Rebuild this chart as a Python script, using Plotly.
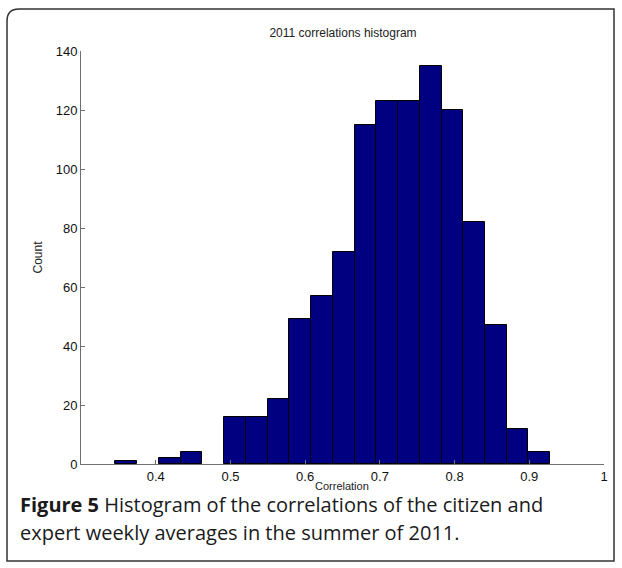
import plotly.graph_objects as go

# ---- data ----
data_min = 0.346
data_max = 0.928
n_bins = 20
counts = [1, 0, 2, 4, 0, 16, 16, 22, 49, 57, 72, 115, 123, 123, 135, 120, 82, 47, 12, 4]
x_ticks = [0.4, 0.5, 0.6, 0.7, 0.8, 0.9, 1]
x_tick_labels = ["0.4", "0.5", "0.6", "0.7", "0.8", "0.9", "1"]
y_ticks = [0, 20, 40, 60, 80, 100, 120, 140]

bin_w = (data_max - data_min) / n_bins
centers = [data_min + bin_w * (i + 0.5) for i in range(n_bins)]
y_plot = [c if c > 0 else None for c in counts]

W, H = 622, 568
L, R, T, B = 81, 18, 51, 104
pw, ph = W - L - R, H - T - B

def px(x):
    return (x - L) / pw

def py(y):
    return (H - B - y) / ph

fig = go.Figure()
fig.add_trace(go.Bar(
    x=centers, y=y_plot, width=bin_w,
    marker=dict(color="#000080", line=dict(color="#000000", width=1)),
    hoverinfo="x+y", showlegend=False,
))

tick_font = dict(family="Liberation Sans, Arial", size=13, color="#111111")
axis_common = dict(
    showgrid=False, zeroline=False, showline=True, linecolor="#707070", linewidth=1,
    ticks="inside", ticklen=4, tickcolor="#707070",
    tickfont=tick_font,
)

fig.update_layout(
    width=W, height=H,
    margin=dict(l=L, r=R, t=T, b=B),
    paper_bgcolor="white", plot_bgcolor="white",
    bargap=0,
    title=dict(text="2011 correlations histogram", x=px(343), xref="paper", xanchor="center",
               y=1 - 33 / H, yref="container", yanchor="middle",
               font=dict(family="Liberation Sans, Arial", size=12, color="#222222")),
    xaxis=dict(range=[0.3, 1], tickvals=x_ticks, ticktext=x_tick_labels, **axis_common),
    yaxis=dict(range=[0, 140], tickvals=y_ticks,
               title=dict(text="Count", standoff=10,
                          font=dict(family="Liberation Sans, Arial", size=12, color="#222222")),
               **axis_common),
)

# x-axis title placed as an annotation so it can sit tight under the tick labels
fig.add_annotation(text="Correlation", x=px(342), y=py(486), xref="paper", yref="paper",
                   xanchor="center", yanchor="middle", showarrow=False,
                   font=dict(family="Liberation Sans, Arial", size=11, color="#222222"))

# rounded frame around the whole figure
x0, y0, x1, y1, r = px(7), py(9), px(614), py(561), 12
rx, ry = r / pw, r / ph
path = (f"M {x0+rx},{y0} L {x1},{y0} L {x1},{y1} L {x0},{y1} L {x0},{y0-ry} "
        f"Q {x0},{y0} {x0+rx},{y0} Z")
fig.add_shape(type="path", path=path, xref="paper", yref="paper",
              line=dict(color="#333333", width=1.5), layer="below")

cap_font = dict(family="Open Sans", size=20, color="#1a1a1a")
fig.add_annotation(text="<b>Figure 5</b> Histogram of the correlations of the citizen and",
                   x=px(18), y=py(505), xref="paper", yref="paper",
                   xanchor="left", yanchor="middle", showarrow=False, font=cap_font)
fig.add_annotation(text="expert weekly averages in the summer of 2011.",
                   x=px(18), y=py(532), xref="paper", yref="paper",
                   xanchor="left", yanchor="middle", showarrow=False, font=cap_font)

fig.write_html("out.html", post_script="document.body.style.margin='0';",
               config={"displayModeBar": False})
